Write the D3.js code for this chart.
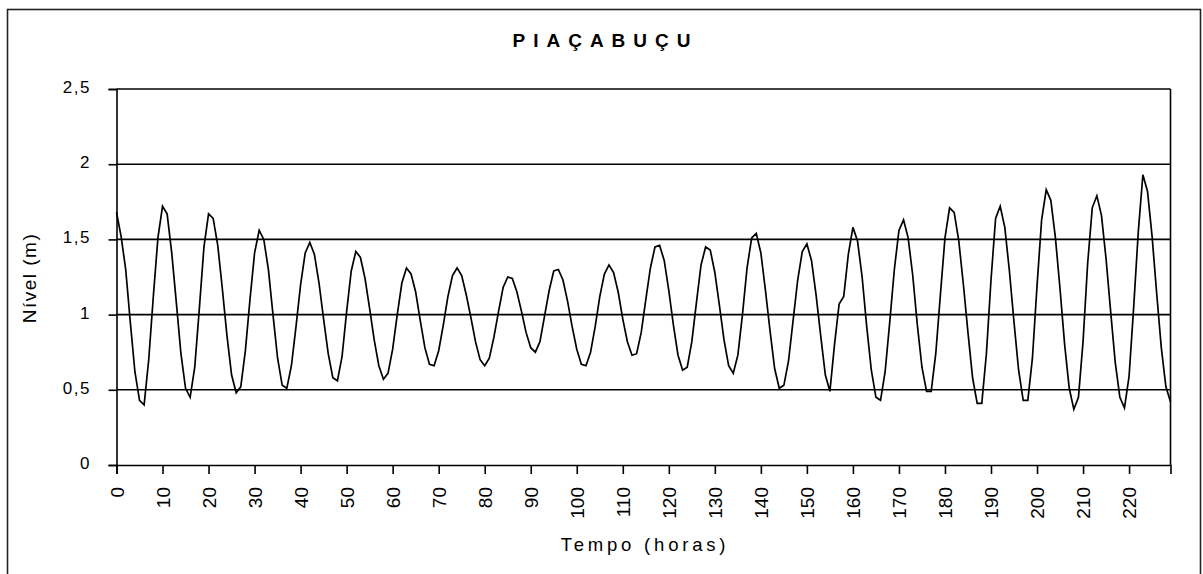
<!DOCTYPE html>
<html>
<head>
<meta charset="utf-8">
<script src="https://cdn.jsdelivr.net/npm/d3@7"></script>
<style>
  html, body { margin: 0; padding: 0; background: #fff; }
  svg { display: block; }
  text { font-family: "Liberation Sans", Arial, sans-serif; fill: #000; }
</style>
</head>
<body>
<svg id="chart" width="1203" height="574"></svg>
<script>
// Hourly water level at Piaçabuçu (m), hours 0..229
const hours = d3.range(0, 230);
const nivel = [
  1.68, 1.52, 1.30, 0.95, 0.62, 0.43, 0.40, 0.70, 1.12, 1.51,
  1.72, 1.67, 1.41, 1.08, 0.74, 0.51, 0.45, 0.65, 1.04, 1.45,
  1.67, 1.64, 1.46, 1.17, 0.86, 0.60, 0.48, 0.52, 0.76, 1.10,
  1.41, 1.56, 1.50, 1.30, 1.00, 0.71, 0.53, 0.51, 0.66, 0.92,
  1.20, 1.41, 1.48, 1.40, 1.21, 0.97, 0.74, 0.58, 0.56, 0.72,
  1.02, 1.29, 1.42, 1.38, 1.24, 1.04, 0.83, 0.66, 0.57, 0.61,
  0.77, 1.00, 1.21, 1.31, 1.27, 1.15, 0.96, 0.78, 0.67, 0.66,
  0.76, 0.93, 1.12, 1.26, 1.31, 1.26, 1.13, 0.98, 0.82, 0.70,
  0.66, 0.71, 0.85, 1.02, 1.18, 1.25, 1.24, 1.15, 1.02, 0.88,
  0.78, 0.75, 0.82, 0.99, 1.16, 1.29, 1.30, 1.23, 1.09, 0.92,
  0.77, 0.67, 0.66, 0.75, 0.92, 1.12, 1.27, 1.33, 1.28, 1.15,
  0.97, 0.82, 0.73, 0.74, 0.88, 1.10, 1.31, 1.45, 1.46, 1.36,
  1.16, 0.93, 0.73, 0.63, 0.65, 0.82, 1.08, 1.33, 1.45, 1.43,
  1.28, 1.06, 0.83, 0.66, 0.61, 0.73, 1.00, 1.31, 1.51, 1.54,
  1.41, 1.16, 0.89, 0.64, 0.51, 0.53, 0.69, 0.96, 1.23, 1.42,
  1.47, 1.36, 1.13, 0.86, 0.60, 0.49, 0.80, 1.07, 1.12, 1.40,
  1.58, 1.49, 1.25, 0.92, 0.63, 0.45, 0.43, 0.62, 0.95, 1.30,
  1.56, 1.63, 1.51, 1.26, 0.93, 0.65, 0.49, 0.49, 0.74, 1.13,
  1.51, 1.71, 1.68, 1.49, 1.20, 0.88, 0.58, 0.41, 0.41, 0.74,
  1.23, 1.64, 1.72, 1.58, 1.29, 0.95, 0.63, 0.43, 0.43, 0.71,
  1.19, 1.63, 1.83, 1.76, 1.51, 1.17, 0.80, 0.51, 0.37, 0.45,
  0.82, 1.34, 1.71, 1.79, 1.66, 1.37, 1.02, 0.68, 0.45, 0.38,
  0.59, 1.05, 1.55, 1.93, 1.82, 1.52, 1.14, 0.78, 0.52, 0.42
];
const yTicks = [0, 0.5, 1, 1.5, 2, 2.5];
const yTickLabels = ["0", "0,5", "1", "1,5", "2", "2,5"];
const xTicks = d3.range(0, 221, 10);
const title = "PIAÇABUÇU";
const xTitle = "Tempo (horas)";
const yTitle = "Nível (m)";

const svg = d3.select("#chart");
const W = 1203, H = 574;
const plot = { left: 116.5, right: 1170.5, top: 89, bottom: 465 };

svg.append("rect").attr("width", W).attr("height", H).attr("fill", "#fff");

// outer chart frame
svg.append("rect")
  .attr("x", 7.5).attr("y", 9.5)
  .attr("width", 1193).attr("height", 600)
  .attr("fill", "none").attr("stroke", "#222").attr("stroke-width", 1.6);

const x = d3.scaleLinear().domain([0, 229]).range([plot.left, plot.right]);
const y = d3.scaleLinear().domain([0, 2.5]).range([plot.bottom, plot.top]);

// horizontal gridlines
svg.append("g")
  .selectAll("line")
  .data(yTicks.slice(1))
  .join("line")
  .attr("x1", plot.left).attr("x2", plot.right)
  .attr("y1", d => y(d)).attr("y2", d => y(d))
  .attr("stroke", "#000").attr("stroke-width", 1.6);

// right edge of plot area
svg.append("line")
  .attr("x1", plot.right).attr("x2", plot.right)
  .attr("y1", plot.top).attr("y2", plot.bottom)
  .attr("stroke", "#000").attr("stroke-width", 1.6);

// y axis
const yAxis = d3.axisLeft(y)
  .tickValues(yTicks)
  .tickSize(8)
  .tickPadding(0)
  .tickFormat((d, i) => yTickLabels[i]);
const gy = svg.append("g").attr("transform", `translate(${plot.left},0)`).call(yAxis);
gy.select(".domain").attr("stroke", "#000").attr("stroke-width", 1.6);
gy.selectAll(".tick line").attr("stroke", "#000").attr("stroke-width", 1.6);
gy.selectAll(".tick text")
  .attr("x", -25.5)
  .attr("dy", "0.2em")
  .style("font-size", "17px")
  .style("letter-spacing", "1.5px")
  .attr("text-anchor", "end");

// x axis
const xAxis = d3.axisBottom(x)
  .tickValues(xTicks)
  .tickSize(9)
  .tickFormat(d => String(d));
const gx = svg.append("g").attr("transform", `translate(0,${plot.bottom})`).call(xAxis);
gx.select(".domain").attr("stroke", "#000").attr("stroke-width", 1.6);
gx.selectAll(".tick line").attr("stroke", "#000").attr("stroke-width", 1.6);
gx.selectAll(".tick text")
  .attr("transform", "translate(0,22) rotate(-90)")
  .attr("x", 0).attr("y", 0)
  .attr("dy", "0.36em")
  .attr("text-anchor", "end")
  .style("font-size", "19px");

// series
const line = d3.line()
  .x((d, i) => x(hours[i]))
  .y(d => y(d));
svg.append("path")
  .datum(nivel)
  .attr("d", line)
  .attr("fill", "none")
  .attr("stroke", "#000")
  .attr("stroke-width", 1.7)
  .attr("stroke-linejoin", "miter");

// titles
svg.append("text")
  .attr("x", 605.5).attr("y", 46.5)
  .attr("text-anchor", "middle")
  .style("font-size", "19px")
  .style("font-weight", "bold")
  .style("letter-spacing", "8px")
  .text(title);

svg.append("text")
  .attr("x", 645).attr("y", 551)
  .attr("text-anchor", "middle")
  .style("font-size", "18.5px")
  .style("letter-spacing", "3.8px")
  .text(xTitle);

svg.append("text")
  .attr("transform", "translate(35.5,278) rotate(-90)")
  .attr("text-anchor", "middle")
  .style("font-size", "19px")
  .style("letter-spacing", "1.5px")
  .text(yTitle);
</script>
</body>
</html>
